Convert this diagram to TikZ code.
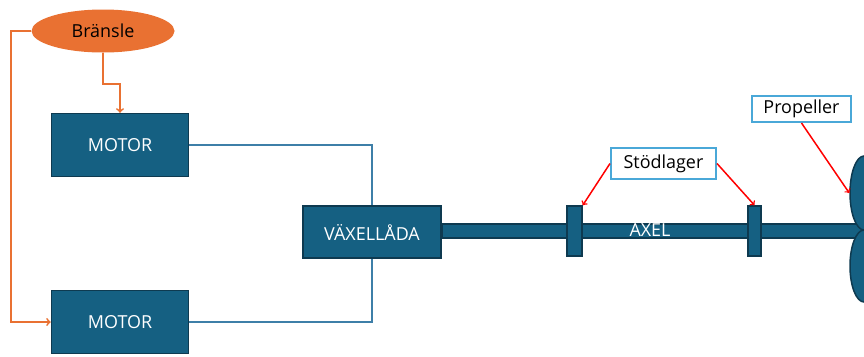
\documentclass[tikz,border=0pt]{standalone}
\usepackage{fontspec}
\setmainfont{Open Sans}
\usetikzlibrary{shapes,arrows}
\definecolor{tealbox}{HTML}{156082}
\definecolor{tealedge}{HTML}{0E3A50}
\definecolor{fuelorange}{HTML}{E97132}
\definecolor{linkblue}{HTML}{3E7FA8}
\definecolor{calloutblue}{HTML}{4AA8D8}

\begin{document}
\begin{tikzpicture}[x=1bp,y=-1bp]
		\tikzstyle {unit} = [draw=tealedge, fill=tealbox, line width=1.5bp, text=white, minimum width=137bp, minimum height=63bp, inner sep=0pt, font=\fontsize{18}{20}\selectfont]
		\tikzstyle {callout} = [draw=calloutblue, fill=white, line width=2bp, inner sep=0pt, font=\fontsize{18}{20}\selectfont]
		\tikzstyle {fuelpipe} = [fuelorange, line width=1.8bp]
		\tikzstyle {powerline} = [linkblue, line width=1.5bp]
		\tikzstyle {pointer} = [red, line width=1.5bp, ->, >=to]

		\useasboundingbox (0,0) rectangle (864,356);
		\clip (0,0) rectangle (864,356);

		% fuel and engines
		\node[ellipse, fill=fuelorange, minimum width=143bp, minimum height=43bp, inner sep=0pt, font=\fontsize{18}{20}\selectfont] (fuel) at (103,31) {Bränsle};
		\node[unit] (motorA) at (120,145) {MOTOR};
		\node[unit] (motorB) at (120,322) {MOTOR};
		\node[unit, minimum width=138bp, minimum height=52bp] (gear) at (372,232) {VÄXELLÅDA};

		\draw[fuelpipe, ->] (fuel.south) -- ++(0,31) -| (motorA.north);
		\draw[fuelpipe, ->] (fuel.west) -- ++(-20,0) |- (motorB.west);

		\draw[powerline] (motorA.east) -| (gear.north);
		\draw[powerline] (motorB.east) -| (gear.south);

		% shaft, bearings and propeller
		\draw[draw=tealedge, fill=tealbox, line width=1.5bp] (gear.east |- 0,224) rectangle (868,238);
		\node[draw=tealedge, fill=tealbox, line width=1.5bp, minimum width=15bp, minimum height=50bp, inner sep=0pt] (bearingA) at (574.5,231) {};
		\node[draw=tealedge, fill=tealbox, line width=1.5bp, minimum width=13bp, minimum height=50bp, inner sep=0pt] (bearingB) at (754.5,231) {};
		\node[text=white, font=\fontsize{18}{20}\selectfont] (shaft) at (650,230) {AXEL};

		\node[ellipse, draw=tealedge, fill=tealbox, line width=1.5bp, minimum width=28bp, minimum height=74bp, inner sep=0pt] (bladeA) at (864,193) {};
		\node[ellipse, draw=tealedge, fill=tealbox, line width=1.5bp, minimum width=28bp, minimum height=72bp, inner sep=0pt] (bladeB) at (864,266) {};

		% labels
		\node[callout, minimum width=105bp, minimum height=31bp] (stod) at (663.5,163.5) {Stödlager};
		\node[callout, minimum width=99bp, minimum height=26bp] (prop) at (801.5,109) {Propeller};

		\draw[pointer] (stod.west) -- (bearingA.north east);
		\draw[pointer] (stod.east) -- (bearingB.north);
		\draw[pointer] (prop.south) -- (bladeA.west);
	\end{tikzpicture}
\end{document}
